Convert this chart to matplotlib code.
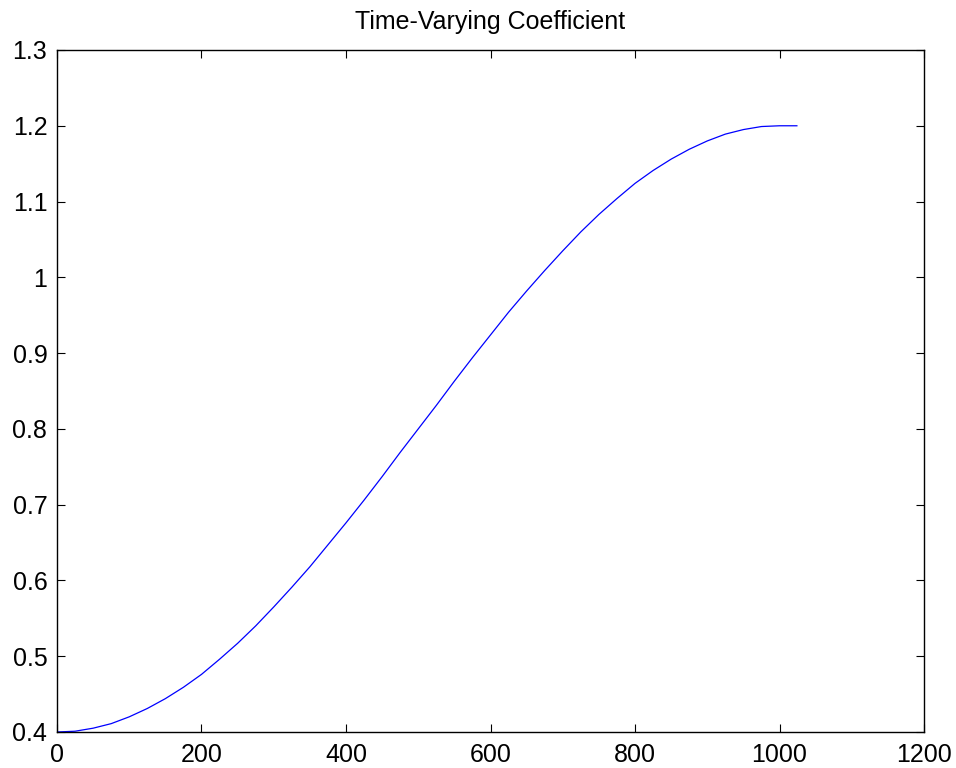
import matplotlib
matplotlib.use("Agg")
import matplotlib.pyplot as plt

# values
t = [0, 25, 50, 75, 100, 125, 150, 175, 200, 225, 250, 275, 300, 325, 350, 375,
     400, 425, 450, 475, 500, 525, 550, 575, 600, 625, 650, 675, 700, 725, 750,
     775, 800, 825, 850, 875, 900, 925, 950, 975, 1000, 1024]
coef = [0.400, 0.401, 0.405, 0.411, 0.420, 0.431, 0.444, 0.459, 0.476, 0.496,
        0.517, 0.540, 0.565, 0.591, 0.618, 0.647, 0.676, 0.706, 0.737, 0.769,
        0.800, 0.831, 0.863, 0.894, 0.924, 0.954, 0.982, 1.009, 1.035, 1.060,
        1.083, 1.104, 1.124, 1.141, 1.156, 1.169, 1.180, 1.189, 1.195, 1.199,
        1.200, 1.200]

xticks = [0, 200, 400, 600, 800, 1000, 1200]
yticks = [0.4, 0.5, 0.6, 0.7, 0.8, 0.9, 1.0, 1.1, 1.2, 1.3]
ylabels = ["0.4", "0.5", "0.6", "0.7", "0.8", "0.9", "1", "1.1", "1.2", "1.3"]

plt.rcParams['font.family'] = ['Liberation Sans', 'DejaVu Sans']

fig = plt.figure(figsize=(9.56, 7.68), dpi=100)
ax = fig.add_axes([0.0596, 0.0469, 0.907, 0.888])

ax.plot(t, coef, color=(0, 0, 1), linewidth=0.9)

ax.set_xlim(0, 1200)
ax.set_ylim(0.4, 1.3)
ax.set_xticks(xticks)
ax.set_yticks(yticks)
ax.set_yticklabels(ylabels)
ax.tick_params(direction='in', top=True, right=True, length=6, width=0.8,
               labelsize=18)
ax.tick_params(axis='y', pad=7)
ax.tick_params(axis='x', pad=8)
for s in ax.spines.values():
    s.set_linewidth(1.0)

ax.set_title("Time-Varying Coefficient", fontsize=18, pad=15)

fig.savefig("out.png", dpi=100)
